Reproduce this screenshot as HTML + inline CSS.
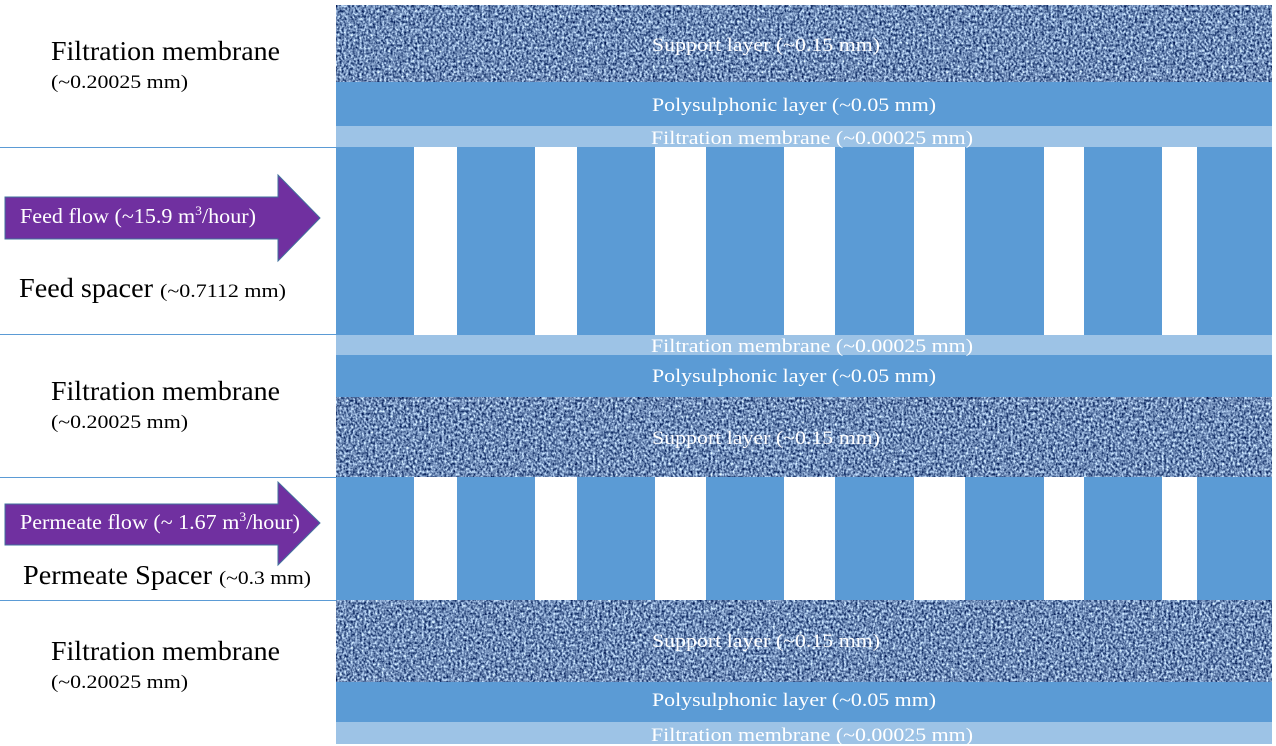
<!DOCTYPE html>
<html><head><meta charset="utf-8"><style>
body{margin:0;background:#fff;}
svg{display:block}
text{font-family:"Liberation Serif",serif;}
</style></head><body>
<svg width="1276" height="746" viewBox="0 0 1276 746" xmlns="http://www.w3.org/2000/svg">
<defs>
<filter id="tex" x="0" y="0" width="100%" height="100%" color-interpolation-filters="sRGB">
<feTurbulence type="fractalNoise" baseFrequency="0.45 0.38" numOctaves="2" seed="3" result="n"/>
<feColorMatrix in="n" type="matrix" values="1.5 0 0 0 -0.32  1.5 0 0 0 -0.21  1.3 0 0 0 0.06  0 0 0 0 1"/>
</filter>
</defs>
<g stroke="#5b9bd5" stroke-width="1">
<line x1="0" y1="147.5" x2="336" y2="147.5"/>
<line x1="0" y1="334.5" x2="336" y2="334.5"/>
<line x1="0" y1="477.5" x2="336" y2="477.5"/>
<line x1="0" y1="600.5" x2="336" y2="600.5"/>
</g>
<rect x="336" y="5" width="936" height="77" fill="#4a6aa8" filter="url(#tex)"/>
<rect x="336" y="397" width="936" height="80" fill="#4a6aa8" filter="url(#tex)"/>
<rect x="336" y="600" width="936" height="82" fill="#4a6aa8" filter="url(#tex)"/>
<rect x="336" y="82" width="936" height="44" fill="#5b9bd5"/>
<rect x="336" y="126" width="936" height="21" fill="#9dc3e6"/>
<rect x="336" y="335" width="936" height="20" fill="#9dc3e6"/>
<rect x="336" y="355" width="936" height="42" fill="#5b9bd5"/>
<rect x="336" y="682" width="936" height="40" fill="#5b9bd5"/>
<rect x="336" y="722" width="936" height="22" fill="#9dc3e6"/>
<rect x="336" y="147" width="936" height="188" fill="#5b9bd5"/>
<rect x="336" y="477" width="936" height="123" fill="#5b9bd5"/>
<g fill="#fff">
<rect x="414" y="147" width="43" height="188"/><rect x="535" y="147" width="42" height="188"/>
<rect x="655" y="147" width="51" height="188"/><rect x="784" y="147" width="51" height="188"/>
<rect x="914" y="147" width="51" height="188"/><rect x="1044" y="147" width="40" height="188"/>
<rect x="1162" y="147" width="35" height="188"/>
<rect x="414" y="477" width="43" height="123"/><rect x="535" y="477" width="42" height="123"/>
<rect x="655" y="477" width="51" height="123"/><rect x="784" y="477" width="51" height="123"/>
<rect x="914" y="477" width="51" height="123"/><rect x="1044" y="477" width="40" height="123"/>
<rect x="1162" y="477" width="35" height="123"/>
</g>
<g fill="#fff" font-size="19">
<text x="652" y="51" textLength="228" lengthAdjust="spacingAndGlyphs">Support layer (~0.15 mm)</text>
<text x="652" y="111" textLength="284" lengthAdjust="spacingAndGlyphs">Polysulphonic layer (~0.05 mm)</text>
<text x="651" y="144" textLength="322" lengthAdjust="spacingAndGlyphs">Filtration membrane (~0.00025 mm)</text>
<text x="651" y="352" textLength="322" lengthAdjust="spacingAndGlyphs">Filtration membrane (~0.00025 mm)</text>
<text x="652" y="382" textLength="284" lengthAdjust="spacingAndGlyphs">Polysulphonic layer (~0.05 mm)</text>
<text x="652" y="444" textLength="228" lengthAdjust="spacingAndGlyphs">Support layer (~0.15 mm)</text>
<text x="652" y="647" textLength="228" lengthAdjust="spacingAndGlyphs">Support layer (~0.15 mm)</text>
<text x="652" y="706" textLength="284" lengthAdjust="spacingAndGlyphs">Polysulphonic layer (~0.05 mm)</text>
<text x="651" y="741" textLength="322" lengthAdjust="spacingAndGlyphs">Filtration membrane (~0.00025 mm)</text>
</g>
<polygon points="5,197 278,197 278,175 320,218 278,261 278,239 5,239" fill="#7030a0" stroke="#41719c" stroke-width="1"/>
<polygon points="5,504 278,504 278,482 320,523 278,565 278,545 5,545" fill="#7030a0" stroke="#41719c" stroke-width="1"/>
<g fill="#fff" font-size="21">
<text x="20" y="223" textLength="236" lengthAdjust="spacingAndGlyphs">Feed flow (~15.9 m<tspan font-size="13" dy="-8">3</tspan><tspan dy="8">/hour)</tspan></text>
<text x="20" y="529" textLength="280" lengthAdjust="spacingAndGlyphs">Permeate flow (~ 1.67 m<tspan font-size="13" dy="-8">3</tspan><tspan dy="8">/hour)</tspan></text>
</g>
<g fill="#000">
<text x="51" y="60" font-size="27" textLength="229" lengthAdjust="spacingAndGlyphs">Filtration membrane</text>
<text x="51" y="88" font-size="19" textLength="137" lengthAdjust="spacingAndGlyphs">(~0.20025 mm)</text>
<text x="19" y="297" font-size="27" textLength="134" lengthAdjust="spacingAndGlyphs">Feed spacer</text>
<text x="160" y="297" font-size="19" textLength="126" lengthAdjust="spacingAndGlyphs">(~0.7112 mm)</text>
<text x="51" y="400" font-size="27" textLength="229" lengthAdjust="spacingAndGlyphs">Filtration membrane</text>
<text x="51" y="428" font-size="19" textLength="137" lengthAdjust="spacingAndGlyphs">(~0.20025 mm)</text>
<text x="23" y="584" font-size="27" textLength="189" lengthAdjust="spacingAndGlyphs">Permeate Spacer</text>
<text x="219" y="584" font-size="19" textLength="92" lengthAdjust="spacingAndGlyphs">(~0.3 mm)</text>
<text x="51" y="660" font-size="27" textLength="229" lengthAdjust="spacingAndGlyphs">Filtration membrane</text>
<text x="51" y="688" font-size="19" textLength="137" lengthAdjust="spacingAndGlyphs">(~0.20025 mm)</text>
</g>
</svg>
</body></html>
